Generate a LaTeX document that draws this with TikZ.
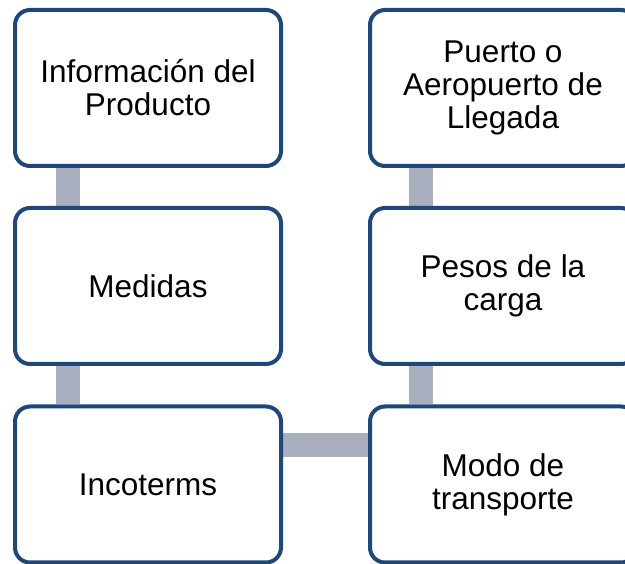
\documentclass[tikz,border=0pt]{standalone}
\usepackage{fontspec}
\setmainfont{Liberation Sans}
\usetikzlibrary{backgrounds}
\definecolor{boxblue}{RGB}{31,71,122}
\definecolor{linkgray}{RGB}{169,175,190}
\tikzset{
  stepbox/.style={draw=boxblue,line width=4bp,rounded corners=15bp,fill=white,
    minimum width=266bp,minimum height=156bp,align=center,
    font=\fontsize{31.5bp}{33bp}\selectfont},
  link/.style={draw=linkgray,line width=24bp},
}
\begin{document}
\begin{tikzpicture}[>=latex,line join=bevel,]
\useasboundingbox (0bp,0bp) rectangle (625bp,564bp);
%%
\node (node_info) at (148bp,476bp) [stepbox] {Información del\\Producto};
  \node (node_medidas) at (148bp,278bp) [stepbox] {Medidas};
  \node (node_incoterms) at (148bp,79.5bp) [stepbox] {Incoterms};
  \node (node_puerto) at (503bp,476bp) [stepbox] {Puerto o\\Aeropuerto de\\Llegada};
  \node (node_pesos) at (503bp,278bp) [stepbox] {Pesos de la\\carga};
  \node (node_modo) at (503bp,79.5bp) [stepbox] {Modo de\\transporte};
%
\begin{scope}[on background layer]
  \draw [link] ([xshift=55bp]node_info.south west) -- ([xshift=55bp]node_medidas.north west);
  \draw [link] ([xshift=55bp]node_medidas.south west) -- ([xshift=55bp]node_incoterms.north west);
  \draw [link] ([yshift=39.5bp]node_incoterms.east) -- ([yshift=39.5bp]node_modo.west);
  \draw [link] ([xshift=53bp]node_modo.north west) -- ([xshift=53bp]node_pesos.south west);
  \draw [link] ([xshift=53bp]node_pesos.north west) -- ([xshift=53bp]node_puerto.south west);
\end{scope}
%
\end{tikzpicture}
\end{document}
